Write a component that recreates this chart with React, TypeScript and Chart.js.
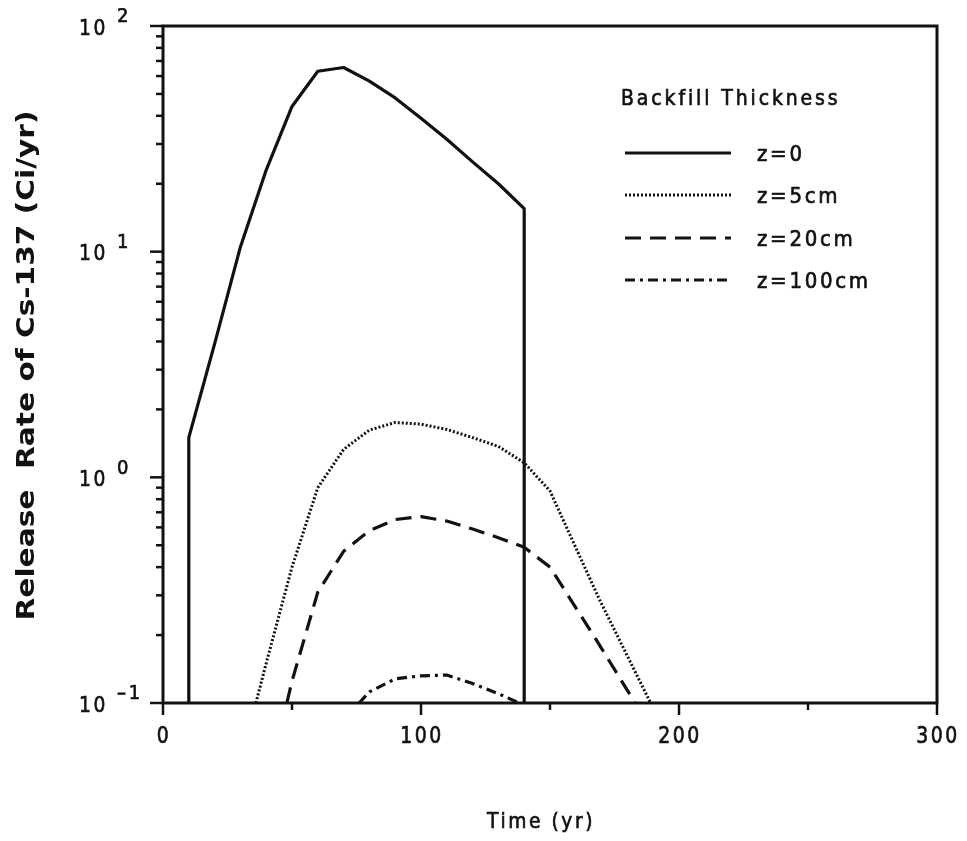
import React, { useEffect, useRef } from "react";
import { Chart, registerables } from "chart.js";

Chart.register(...registerables);

// ---- data ----
const z0Time = [10, 10, 20, 30, 40, 50, 60, 70, 80, 90, 100, 110, 120, 130, 140, 140];
const z0Rate = [0.1, 1.5, 3.9, 10.5, 23, 44, 63, 65.5, 57, 48, 39, 31.5, 25, 20, 15.5, 0.1];

const z5Time = [36, 40, 50, 60, 70, 80, 90, 100, 110, 120, 130, 140, 150, 169, 189];
const z5Rate = [0.1, 0.15, 0.4, 0.9, 1.33, 1.62, 1.75, 1.72, 1.63, 1.5, 1.37, 1.16, 0.87, 0.29, 0.1];

const z20Time = [48, 50, 60, 70, 80, 90, 100, 110, 120, 130, 140, 150, 168, 183];
const z20Rate = [0.1, 0.125, 0.31, 0.47, 0.58, 0.65, 0.67, 0.64, 0.59, 0.54, 0.49, 0.4, 0.19, 0.1];

const z100Time = [76, 80, 90, 100, 110, 120, 130, 138];
const z100Rate = [0.1, 0.112, 0.128, 0.132, 0.133, 0.122, 0.11, 0.1];

const seriesLabels = ["z=0", "z=5cm", "z=20cm", "z=100cm"];
const legendTitle = "Backfill Thickness";
const xTitle = "Time (yr)";
const yTitle = "Release  Rate of Cs-137 (Ci/yr)";

const xMajorTicks = [0, 100, 200, 300];
const xMinorTicks = [50, 150, 250];
const yDecadeExps = [-1, 0, 1, 2];

const dashes: number[][] = [[], [2, 2], [16, 9], [10, 5, 3, 5]];
const widths = [3.2, 3, 3.2, 3.2];

const toPoints = (xs: number[], ys: number[]) => xs.map((x, i) => ({ x, y: ys[i] }));

const FONT = '"DejaVu Sans", "Liberation Sans", sans-serif';

// draw text with horizontal scale sx and letter spacing, slightly emboldened
function drawText(
  ctx: CanvasRenderingContext2D,
  text: string,
  x: number,
  y: number,
  font: string,
  sx: number,
  spacing: number,
  align: "left" | "center" | "right"
) {
  ctx.save();
  ctx.font = font;
  (ctx as any).letterSpacing = `${spacing}px`;
  ctx.textBaseline = "middle";
  ctx.textAlign = align;
  ctx.translate(x, y);
  ctx.scale(sx, 1);
  ctx.fillText(text, 0, 0);
  ctx.lineWidth = 0.7;
  ctx.setLineDash([]);
  ctx.strokeText(text, 0, 0);
  ctx.restore();
}

const decorPlugin = {
  id: "decor",
  afterDraw(chart: any) {
    const { ctx, chartArea: a } = chart;
    const xs = chart.scales.x;
    const ys = chart.scales.y;
    ctx.save();
    ctx.strokeStyle = "#111";
    ctx.fillStyle = "#111";
    ctx.lineCap = "butt";

    // frame
    ctx.lineWidth = 3;
    ctx.strokeRect(a.left, a.top, a.right - a.left, a.bottom - a.top);

    // y ticks (log minor + major)
    ctx.lineWidth = 2.5;
    for (const e of yDecadeExps) {
      const base = Math.pow(10, e);
      const py = ys.getPixelForValue(base);
      ctx.beginPath();
      ctx.moveTo(a.left - 13, py);
      ctx.lineTo(a.left, py);
      ctx.stroke();
      if (e < yDecadeExps[yDecadeExps.length - 1]) {
        for (let m = 2; m <= 9; m++) {
          const p = ys.getPixelForValue(base * m);
          ctx.beginPath();
          ctx.moveTo(a.left - 7, p);
          ctx.lineTo(a.left, p);
          ctx.stroke();
        }
      }
    }
    // x ticks
    for (const v of xMajorTicks) {
      const px = xs.getPixelForValue(v);
      ctx.beginPath();
      ctx.moveTo(px, a.bottom);
      ctx.lineTo(px, a.bottom + 12);
      ctx.stroke();
    }
    for (const v of xMinorTicks) {
      const px = xs.getPixelForValue(v);
      ctx.beginPath();
      ctx.moveTo(px, a.bottom);
      ctx.lineTo(px, a.bottom + 7);
      ctx.stroke();
    }

    // x tick labels
    for (const v of xMajorTicks) {
      drawText(ctx, String(v), xs.getPixelForValue(v) + 1, a.bottom + 34, `23px ${FONT}`, 0.82, 3, "center");
    }

    // y tick labels 10^e
    for (const e of yDecadeExps) {
      const py = ys.getPixelForValue(Math.pow(10, e));
      drawText(ctx, "10", a.left - 55, py + 3, `22px ${FONT}`, 0.85, 3, "right");
      const ex = e < 0 ? "\u2013" + String(-e) : String(e);
      drawText(ctx, ex, a.left - 46, py - 9, `20px ${FONT}`, 0.9, 3, "left");
    }

    // axis titles
    drawText(ctx, xTitle, 533, a.bottom + 119, `22px ${FONT}`, 0.85, 3, "center");

    ctx.save();
    ctx.translate(20, (a.top + a.bottom) / 2 + 1);
    ctx.rotate(-Math.PI / 2);
    ctx.font = `bold 24px ${FONT}`;
    const tw = ctx.measureText(yTitle).width;
    ctx.scale(510 / tw, 1);
    ctx.textAlign = "center";
    ctx.textBaseline = "middle";
    ctx.fillText(yTitle, 0, 0);
    ctx.restore();

    // legend
    const lx = a.left + 458;
    drawText(ctx, legendTitle, lx, a.top + 74, `21px ${FONT}`, 0.9, 3.2, "left");
    const rowY = [a.top + 127, a.top + 169, a.top + 212, a.top + 254];
    chart.data.datasets.forEach((ds: any, i: number) => {
      const y = rowY[i];
      ctx.save();
      ctx.lineWidth = ds.borderWidth;
      ctx.setLineDash(ds.borderDash || []);
      ctx.beginPath();
      ctx.moveTo(lx + 4, y);
      ctx.lineTo(lx + 110, y);
      ctx.stroke();
      ctx.restore();
      drawText(ctx, ds.label, lx + 136, y + 2, `22px ${FONT}`, 0.9, 3, "left");
    });

    ctx.restore();
  },
};

export default function App() {
  const ref = useRef<HTMLCanvasElement | null>(null);
  useEffect(() => {
    if (!ref.current) return;
    const all = [
      toPoints(z0Time, z0Rate),
      toPoints(z5Time, z5Rate),
      toPoints(z20Time, z20Rate),
      toPoints(z100Time, z100Rate),
    ];
    const chart = new Chart(ref.current, {
      type: "line",
      data: {
        datasets: all.map((d, i) => ({
          label: seriesLabels[i],
          data: d,
          borderColor: "#111",
          backgroundColor: "#111",
          borderWidth: widths[i],
          borderDash: dashes[i],
          pointRadius: 0,
          tension: 0,
          fill: false,
          borderJoinStyle: "round" as const,
        })),
      },
      options: {
        animation: false,
        responsive: false,
        devicePixelRatio: 1,
        layout: { padding: { left: 155, right: 22, top: 18, bottom: 130 } },
        scales: {
          x: { type: "linear", min: 0, max: 300, display: false },
          y: { type: "logarithmic", min: 0.1, max: 100, display: false },
        },
        plugins: { legend: { display: false }, tooltip: { enabled: false } },
      },
      plugins: [decorPlugin],
    });
    return () => chart.destroy();
  }, []);
  return (
    <div style={{ width: 951, height: 825, background: "#fff" }}>
      <canvas ref={ref} width={951} height={825} style={{ display: "block" }} />
    </div>
  );
}
